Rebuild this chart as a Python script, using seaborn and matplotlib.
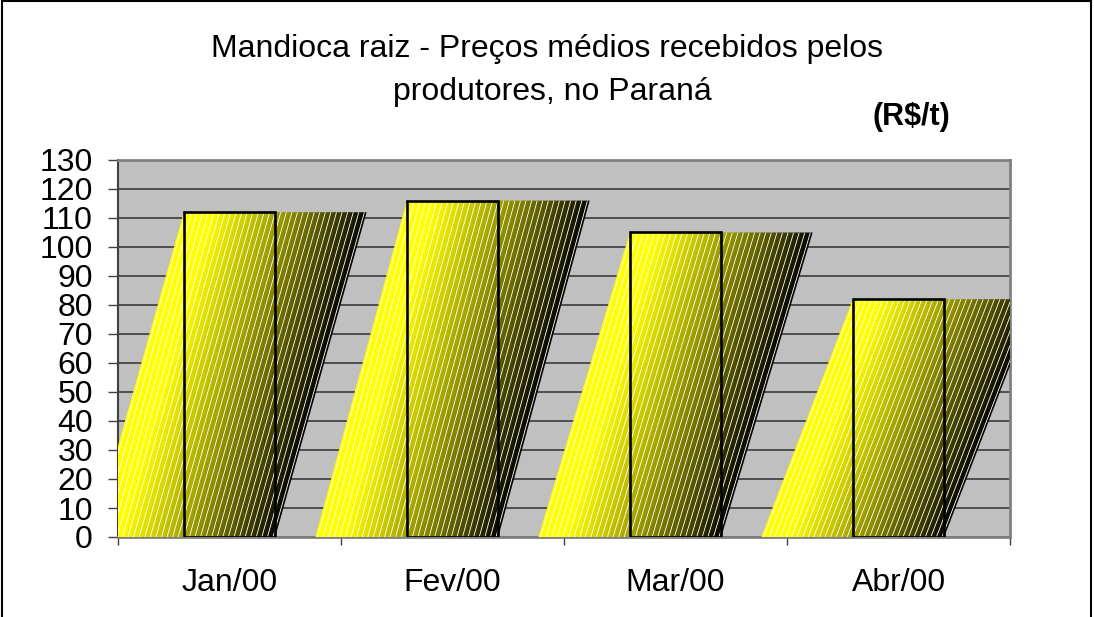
import numpy as np
import matplotlib
matplotlib.use("Agg")
import matplotlib.pyplot as plt
from matplotlib.patches import Polygon, Rectangle
from matplotlib.collections import LineCollection
from matplotlib.ticker import FixedLocator, MultipleLocator
import seaborn as sns

# ── Data ──────────────────────────────────────────────────────────────────
months = ["Jan/00", "Fev/00", "Mar/00", "Abr/00"]
prices = [112, 116, 105, 82]
title_lines = ["Mandioca raiz - Preços médios recebidos pelos",
               "produtores, no Paraná"]
unit_label = "(R$/t)"

plt.rcParams["font.family"] = ["Liberation Sans", "DejaVu Sans"]

fig = plt.figure(figsize=(10.94, 6.17), dpi=100)
ax = fig.add_axes([118 / 1094, 1 - 537 / 617, (1010 - 118) / 1094, (537 - 160) / 617])
ax.set_facecolor("#C0C0C0")

sns.barplot(x=months, y=prices, width=0.41, ax=ax, zorder=6)
bars = list(ax.patches)
for bar in bars:
    bar.set_facecolor("none")
    bar.set_edgecolor("black")
    bar.set_linewidth(1.9)

# ── Sheared "shadow" behind each bar: yellow->black gradient + white hatch ──
YELLOW = np.array([1.0, 1.0, 0.0])
hatch_step = 0.025
for bar in bars:
    L, w, h = bar.get_x(), bar.get_width(), bar.get_height()
    R = L + w
    poly = Polygon([(L - w, 0), (R, 0), (R + w, h), (L, h)], closed=True,
                   facecolor="none", edgecolor="none")
    ax.add_patch(poly)

    xs = np.linspace(L - w, R + w, 400)
    ys = np.linspace(0, h, 200)
    X, Y = np.meshgrid(xs, ys)
    u = np.clip((X - (L - w) - w * Y / h) / (2 * w), 0, 1)
    shade = np.clip(1.15 * (1 - u) ** 0.85, 0, 1)
    img = shade[..., None] * YELLOW
    im = ax.imshow(img, extent=(L - w, R + w, 0, h), origin="lower",
                   aspect="auto", zorder=3, interpolation="bilinear")
    im.set_clip_path(poly)

    segs = [[(xb, 0), (xb + w, h)] for xb in np.arange(L - w + 0.01, R, hatch_step)]
    lc = LineCollection(segs, colors="white", linewidths=0.6, zorder=4)
    ax.add_collection(lc)
    lc.set_clip_path(poly)

ax.set_xlim(-0.5, len(months) - 0.5)
ax.set_ylim(0, 130)

# ── Axes styling ──────────────────────────────────────────────────────────
ax.yaxis.set_major_locator(MultipleLocator(10))
ax.set_axisbelow(True)
ax.grid(axis="y", color="#303030", linewidth=1.1)
ax.grid(axis="x", visible=False)

for side in ["top", "right", "bottom"]:
    ax.spines[side].set_color("#808080")
    ax.spines[side].set_linewidth(2)
ax.spines["left"].set_color("#404040")
ax.spines["left"].set_linewidth(1.5)

ax.xaxis.set_minor_locator(FixedLocator(np.arange(len(months) + 1) - 0.5))
ax.tick_params(axis="x", which="major", length=0, pad=22, labelsize=23)
ax.tick_params(axis="x", which="minor", length=6, width=1, color="#404040")
ax.tick_params(axis="y", direction="out", length=7, width=1, color="#404040",
               labelsize=23, pad=11)
ax.set_xlabel("")
ax.set_ylabel("")

# ── Titles ────────────────────────────────────────────────────────────────
fig.text(0.5, 1 - 49 / 617, title_lines[0], ha="center", va="center", fontsize=23)
fig.text(0.505, 1 - 92 / 617, title_lines[1], ha="center", va="center", fontsize=23)
fig.text(911 / 1094, 1 - 117 / 617, unit_label, ha="center", va="center",
         fontsize=22, fontweight="bold")

fig.add_artist(Rectangle((0.0015, -0.01), 0.996, 1.0085, transform=fig.transFigure,
                         fill=False, edgecolor="black", linewidth=1.5))

fig.savefig("out.png", dpi=100)
